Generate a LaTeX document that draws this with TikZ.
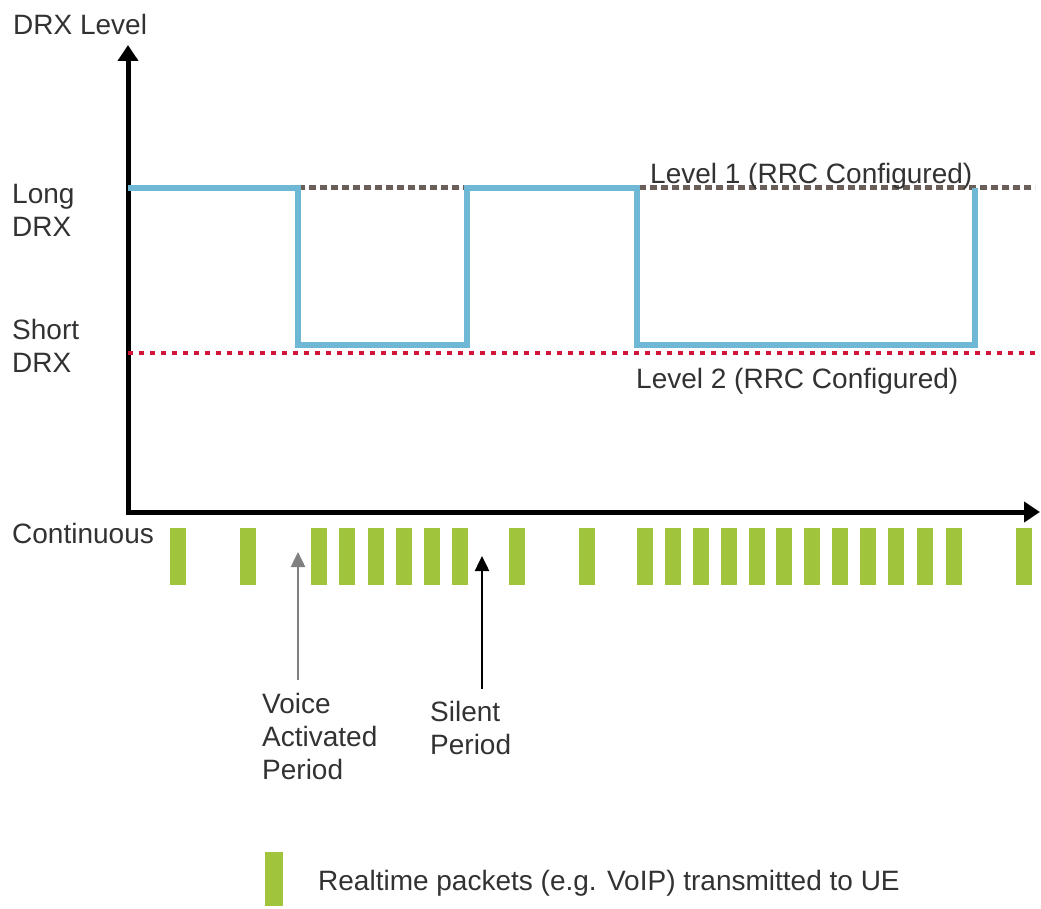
\documentclass[tikz,border=0pt]{standalone}
\usepackage{fontspec}
\setmainfont{Liberation Sans}
\usetikzlibrary{arrows.meta}
\definecolor{drxblue}{RGB}{110,184,214}
\definecolor{pktgreen}{RGB}{160,196,60}
\definecolor{lvlbrown}{RGB}{105,95,88}
\definecolor{lvlred}{RGB}{210,20,60}
\definecolor{txtgray}{RGB}{50,50,50}
\tikzset{
  lbl/.style={inner sep=0pt, text=txtgray, font=\fontsize{28}{33}\selectfont, align=left},
  axis/.style={line width=5pt, {Triangle[length=16pt,width=20pt]}-{Triangle[length=16pt,width=20pt]}},
  drx/.style={drxblue, line width=5.5pt},
  packet/.style={fill=pktgreen},
  pointer/.style={line width=2.5pt, -{Triangle[length=15pt,width=14pt]}}
}
\begin{document}
\begin{tikzpicture}[x=1pt,y=-1pt]
    \useasboundingbox (0,0) rectangle (1041,909);

    % axes
    \coordinate (ytop) at (128,45);
    \coordinate (orig) at (128,512);
    \coordinate (xend) at (1040,512);
    \draw[axis] (ytop) -- (orig) -- (xend);

    % configured levels
    \coordinate (long) at (128,188);
    \coordinate (short) at (128,353);
    \draw[lvlbrown, line width=5pt, dash pattern=on 7pt off 4pt] (298,188) -- (1035,188);
    \draw[lvlred, line width=4.5pt, dash pattern=on 5pt off 6pt] (short) -- (1041,353);

    % DRX state
    \draw[drx] (long) -- (298,188) -- (298,345) -- (467,345) -- (467,188)
        -- (637,188) -- (637,345) -- (975,345) -- (975,188);

    % packets
    \foreach \px in {178,248,319,347,376,404,432,460,517,587,
                     645,673,701,729,757,784,812,840,868,896,925,954,1024}
        \fill[packet] (\px-8,528) rectangle (\px+8,585);

    % labels
    \node[lbl, anchor=base west] (ylabel) at (13,35) {DRX Level};
    \node[lbl, anchor=north west] (longlbl) at (12,184) {Long\\DRX};
    \node[lbl, anchor=north west] (shortlbl) at (12,319) {Short\\DRX};
    \node[lbl, anchor=base west] (contlbl) at (12,543) {Continuous};
    \node[lbl, anchor=base west] (lvl1) at (650,184) {Level 1 (RRC Configured)};
    \node[lbl, anchor=base west] (lvl2) at (636,388) {Level 2 (RRC Configured)};

    % pointers
    \coordinate (vtip) at (298,552);
    \coordinate (stip) at (482,556);
    \node[lbl, anchor=north west] (voice) at (262,693) {Voice\\Activated\\Period};
    \node[lbl, anchor=north west] (silent) at (430,701) {Silent\\Period};
    \draw[pointer, gray] ([yshift=13pt]voice.north -| vtip) -- (vtip);
    \draw[pointer, black] ([yshift=12pt]silent.north -| stip) -- (stip);

    % legend
    \fill[packet] (265,852) rectangle (283,906);
    \node[lbl, anchor=base west] (legend) at (318,890) {Realtime packets (e.g. VoIP) transmitted to UE};
\end{tikzpicture}
\end{document}
